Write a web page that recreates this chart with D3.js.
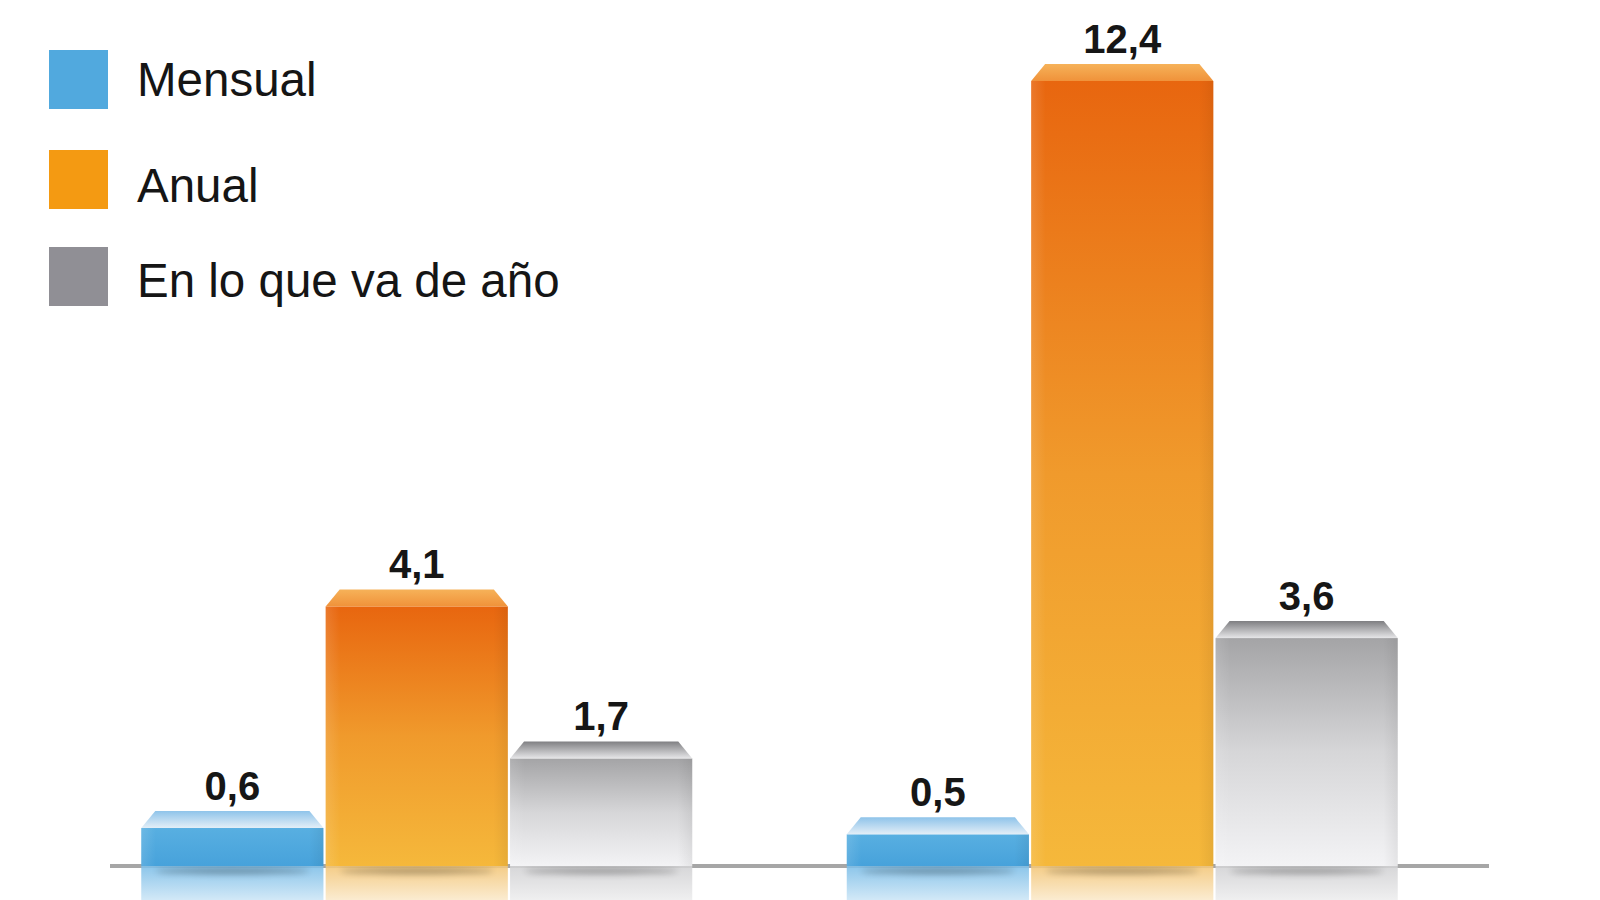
<!DOCTYPE html>
<html><head><meta charset="utf-8">
<script src="https://cdn.jsdelivr.net/npm/d3@7"></script>
<style>html,body{margin:0;padding:0;background:#fff;overflow:hidden}</style>
</head><body>
<svg id="chart" width="1600" height="900"></svg>
<script>
// ---- data ----
const groups = ["Grupo 1", "Grupo 2"];
const seriesNames = ["Mensual", "Anual", "En lo que va de año"];
const mensual = [0.6, 0.5];
const anual = [4.1, 12.4];
const enLoQueVa = [1.7, 3.6];
const valueLabels = [["0,6", "4,1", "1,7"], ["0,5", "12,4", "3,6"]];

const seriesValues = [mensual, anual, enLoQueVa];
const svg = d3.select("#chart");
const defs = svg.append("defs");

const base = 866;
const x0 = d3.scaleBand().domain(groups).range([64, 1475]).paddingInner(0.219).paddingOuter(0.1095);
const x1 = d3.scaleBand().domain(seriesNames).range([0, x0.bandwidth()]).paddingInner(0.012);
const y = d3.scaleLinear().domain([0, 12.4]).range([base, 81]);

const styles = {
  "Mensual": {legend: "#51a9de", front: ["#58afe1", "#47a2db"], bevel: ["#8fc4ea", "#e3eef7"], refl: "#7fbfe8"},
  "Anual": {legend: "#f49a12", front: ["#e8660f", "#f09a2c", "#f5b83b"], bevel: ["#f6b259", "#f0923a"], refl: "#f3c77a"},
  "En lo que va de año": {legend: "#908f95", front: ["#a4a4a6", "#d6d6d8", "#f3f3f5"], bevel: ["#7f7f82", "#e6e6e8"], refl: "#d2d2d4"}
};

seriesNames.forEach((s, i) => {
  const st = styles[s];
  const gf = defs.append("linearGradient").attr("id", "front" + i).attr("x1", 0).attr("y1", 0).attr("x2", 0).attr("y2", 1);
  st.front.forEach((c, k) => gf.append("stop").attr("offset", k / (st.front.length - 1)).attr("stop-color", c));
  const gb = defs.append("linearGradient").attr("id", "bevel" + i).attr("x1", 0).attr("y1", 0).attr("x2", 0).attr("y2", 1);
  st.bevel.forEach((c, k) => gb.append("stop").attr("offset", k / (st.bevel.length - 1)).attr("stop-color", c));
  const gr = defs.append("linearGradient").attr("id", "refl" + i).attr("x1", 0).attr("y1", 0).attr("x2", 0).attr("y2", 1);
  gr.append("stop").attr("offset", 0).attr("stop-color", st.refl).attr("stop-opacity", 0.9);
  gr.append("stop").attr("offset", 1).attr("stop-color", st.refl).attr("stop-opacity", 0.35);
  const gs = defs.append("linearGradient").attr("id", "side" + i).attr("x1", 0).attr("y1", 0).attr("x2", 1).attr("y2", 0);
  gs.append("stop").attr("offset", 0).attr("stop-color", "#fff").attr("stop-opacity", 0.12);
  gs.append("stop").attr("offset", 0.08).attr("stop-color", "#fff").attr("stop-opacity", 0);
  gs.append("stop").attr("offset", 0.92).attr("stop-color", "#000").attr("stop-opacity", 0);
  gs.append("stop").attr("offset", 1).attr("stop-color", "#000").attr("stop-opacity", 0.06);
});
const blur = defs.append("filter").attr("id", "blur").attr("x", "-20%").attr("y", "-200%").attr("width", "140%").attr("height", "500%");
blur.append("feGaussianBlur").attr("stdDeviation", 3);

// baseline
svg.append("line").attr("x1", 110).attr("x2", 1489).attr("y1", base).attr("y2", base)
  .attr("stroke", "#a6a6a6").attr("stroke-width", 4);

const bevelH = 17, inset = 14;

groups.forEach((g, gi) => {
  const gg = svg.append("g").attr("transform", `translate(${x0(g)},0)`);
  seriesNames.forEach((s, si) => {
    const v = seriesValues[si][gi];
    const bx = x1(s), bw = x1.bandwidth();
    const top = y(v);
    gg.append("rect").attr("x", bx).attr("y", base).attr("width", bw).attr("height", 900 - base)
      .attr("fill", `url(#refl${si})`);
    gg.append("ellipse").attr("cx", bx + bw / 2).attr("cy", base + 5).attr("rx", bw * 0.42).attr("ry", 3)
      .attr("fill", "#000").attr("opacity", 0.3).attr("filter", "url(#blur)");
    gg.append("rect").attr("x", bx).attr("y", top).attr("width", bw).attr("height", base - top)
      .attr("fill", `url(#front${si})`);
    gg.append("rect").attr("x", bx).attr("y", top).attr("width", bw).attr("height", base - top)
      .attr("fill", `url(#side${si})`);
    gg.append("path")
      .attr("d", `M${bx},${top} L${bx + inset},${top - bevelH} L${bx + bw - inset},${top - bevelH} L${bx + bw},${top} Z`)
      .attr("fill", `url(#bevel${si})`);
    gg.append("text").attr("x", bx + bw / 2).attr("y", top - bevelH - 11)
      .attr("text-anchor", "middle")
      .attr("font-family", "'Liberation Sans', Arial, sans-serif")
      .attr("font-weight", "bold").attr("font-size", 40).attr("fill", "#161616")
      .text(valueLabels[gi][si]);
  });
});

// legend
const legendTops = [50, 150, 247];
const legendBaselineOffsets = [46, 52, 50];
const lg = svg.append("g");
seriesNames.forEach((s, i) => {
  const ty = legendTops[i];
  lg.append("rect").attr("x", 49).attr("y", ty).attr("width", 59).attr("height", 59)
    .attr("fill", styles[s].legend);
  lg.append("text").attr("x", 137).attr("y", ty + legendBaselineOffsets[i])
    .attr("font-family", "'Liberation Sans', Arial, sans-serif")
    .attr("font-size", 47.5).attr("fill", "#151515").text(s);
});
</script>
</body></html>
